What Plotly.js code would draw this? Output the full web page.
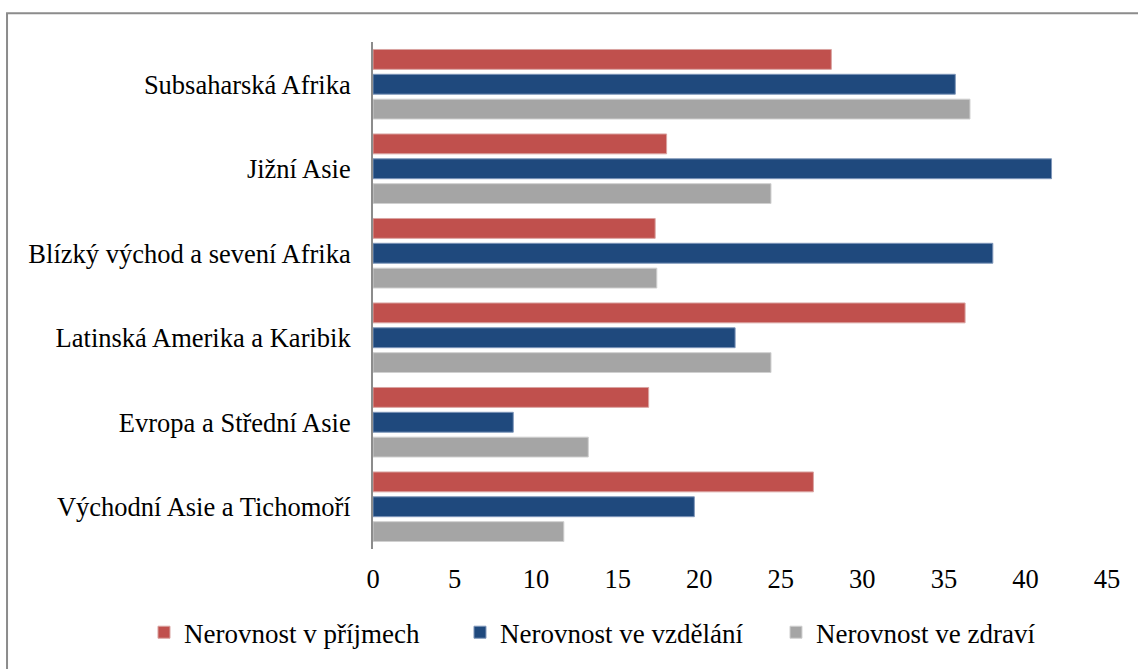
<!DOCTYPE html>
<html>
<head>
<meta charset="utf-8">
<script src="https://cdn.plot.ly/plotly-3.0.1.min.js"></script>
<style>html,body{margin:0;padding:0;background:#fff;}#chart{width:1138px;height:669px;}</style>
</head>
<body>
<div id="chart"></div>
<script>
const categories = ["Subsaharská Afrika", "Jižní Asie", "Blízký východ a sevení Afrika", "Latinská Amerika a Karibik", "Evropa a Střední Asie", "Východní Asie a Tichomoří"];
const seriesNames = ["Nerovnost v příjmech", "Nerovnost ve vzdělání", "Nerovnost ve zdraví"];
const incomeValues = [28.1, 18.0, 17.3, 36.3, 16.9, 27.0];
const educationValues = [35.7, 41.6, 38.0, 22.2, 8.6, 19.7];
const healthValues = [36.6, 24.4, 17.4, 24.4, 13.2, 11.7];
const xTicks = [0, 5, 10, 15, 20, 25, 30, 35, 40, 45];

const colors = ["#C0504D", "#1F497D", "#A5A5A5"];
const lines = ["#D9A3A1", "#7F97BA", "#D0D0D0"];
const valueSets = [incomeValues, educationValues, healthValues];

const traces = valueSets.map((vals, i) => ({
  type: "bar",
  orientation: "h",
  name: seriesNames[i],
  y: categories,
  x: vals,
  marker: {color: colors[i], line: {color: lines[i], width: 1}},
  hoverinfo: "x+y"
}));

function mkFont(size) {
  return {family: "Liberation Serif", size: size, color: "#000000"};
}

const layout = {
  width: 1138, height: 669,
  margin: {l: 373, r: 31, t: 42, b: 117},
  paper_bgcolor: "#ffffff", plot_bgcolor: "#ffffff",
  font: mkFont(26.5),
  barmode: "group",
  bargap: 0.118,
  bargroupgap: 0.2,
  showlegend: true,
  legend: {
    orientation: "h", x: -0.312, xanchor: "left", y: -0.165, yanchor: "middle",
    font: mkFont(27), entrywidth: 271, entrywidthmode: "pixels", traceorder: "normal"
  },
  xaxis: {
    range: [0, 45], tickvals: xTicks, ticktext: xTicks.map(String),
    showgrid: false, zeroline: false, showline: false, ticks: "",
    ticklabelstandoff: 11, tickfont: mkFont(26.5)
  },
  yaxis: {
    autorange: "reversed", type: "category",
    showgrid: false, zeroline: false, showline: true, linecolor: "#8C8C8C", linewidth: 2,
    ticks: "", ticklabelstandoff: 15, tickfont: mkFont(26.5)
  },
  shapes: [{
    type: "rect", xref: "paper", yref: "paper",
    x0: -0.4986, x1: 1.06, y0: -0.3, y1: 1.0569,
    line: {color: "#8C8C8C", width: 2}, fillcolor: "rgba(0,0,0,0)", layer: "below"
  }]
};

Plotly.newPlot("chart", traces, layout, {displayModeBar: false, staticPlot: true});
</script>
</body>
</html>
